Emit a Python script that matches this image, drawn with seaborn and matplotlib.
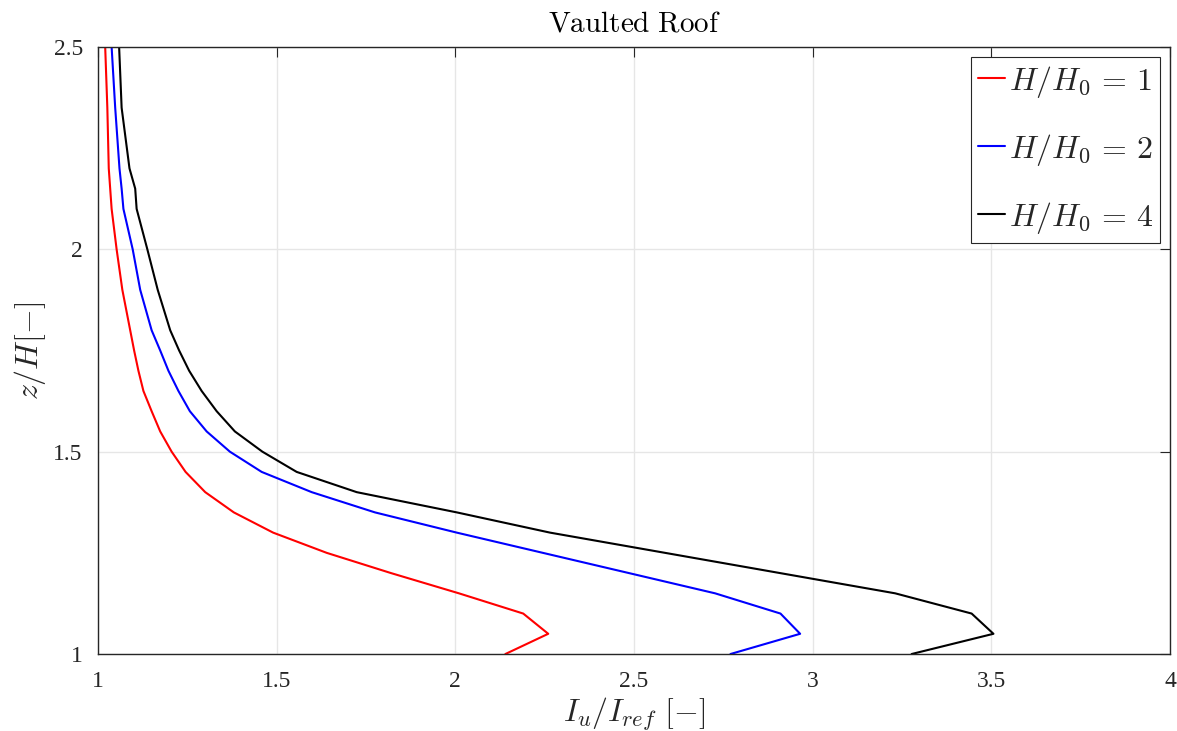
import matplotlib
matplotlib.use("Agg")
import matplotlib.pyplot as plt
import numpy as np
import pandas as pd
import seaborn as sns

# Height above ground (normalised) shared by all profiles
z_over_h = [1.0, 1.05, 1.1, 1.15, 1.2, 1.25, 1.3, 1.35, 1.4, 1.45, 1.5,
            1.55, 1.6, 1.65, 1.7, 1.75, 1.8, 1.9, 2.0, 2.1, 2.15, 2.2,
            2.35, 2.5]

# Turbulence intensity ratio I_u / I_ref for each building-height ratio
iu_h1 = [2.14, 2.26, 2.19, 2.01, 1.82, 1.64, 1.49, 1.38, 1.30, 1.245, 1.206,
         1.174, 1.150, 1.127, 1.113, 1.101, 1.090, 1.068, 1.052, 1.038, 1.034,
         1.030, 1.026, 1.020]
iu_h2 = [2.77, 2.965, 2.91, 2.727, 2.486, 2.245, 2.004, 1.775, 1.598, 1.458,
         1.369, 1.304, 1.257, 1.225, 1.197, 1.174, 1.150, 1.118, 1.097, 1.071,
         1.066, 1.060, 1.048, 1.038]
iu_h4 = [3.277, 3.506, 3.445, 3.231, 2.909, 2.587, 2.265, 2.004, 1.724, 1.556,
         1.460, 1.383, 1.332, 1.290, 1.255, 1.227, 1.202, 1.167, 1.138, 1.108,
         1.104, 1.088, 1.066, 1.059]

case_labels = [r"$H/H_0\,=\,1$", r"$H/H_0\,=\,2$", r"$H/H_0\,=\,4$"]
case_colors = ["#ff0000", "#0000ff", "#000000"]

x_ticks = [1, 1.5, 2, 2.5, 3, 3.5, 4]
x_tick_labels = ["1", "1.5", "2", "2.5", "3", "3.5", "4"]
y_ticks = [1, 1.5, 2, 2.5]
y_tick_labels = ["1", "1.5", "2", "2.5"]

frames = []
for label, values in zip(case_labels, [iu_h1, iu_h2, iu_h4]):
    frames.append(pd.DataFrame({"Iu": values, "z": z_over_h, "case": label}))
df = pd.concat(frames, ignore_index=True)

sns.set_style("white")
plt.rcParams["font.family"] = ["Liberation Serif", "DejaVu Serif"]
plt.rcParams["mathtext.fontset"] = "cm"

fig = plt.figure(figsize=(11.77, 7.31), dpi=100)
ax = fig.add_axes([0.0833, 0.1053, 0.9107, 0.8304])

sns.lineplot(data=df, x="Iu", y="z", hue="case", palette=case_colors,
             sort=False, estimator=None, linewidth=1.5, ax=ax)

ax.set_xlim(1, 4)
ax.set_ylim(1, 2.5)
ax.set_xticks(x_ticks)
ax.set_xticklabels(x_tick_labels)
ax.set_yticks(y_ticks)
ax.set_yticklabels(y_tick_labels)

ax.grid(True, color="#e6e6e6", linewidth=1.0)
ax.set_axisbelow(True)
for side in ["left", "right", "top", "bottom"]:
    ax.spines[side].set_visible(True)
    ax.spines[side].set_color("#262626")
    ax.spines[side].set_linewidth(1.0)

ax.tick_params(axis="both", which="major", direction="in", length=7,
               width=0.8, color="#262626", labelsize=17, labelcolor="#262626",
               top=True, right=True)
ax.tick_params(axis="x", pad=12)
ax.tick_params(axis="y", pad=11)

ax.set_xlabel(r"$I_u/I_{ref}\ [-]$", fontsize=23, color="#262626", labelpad=3)
ax.set_ylabel(r"$z/H[-]$", fontsize=23, color="#262626", labelpad=4)
ax.set_title(r"$\mathrm{Vaulted\ Roof}$", fontsize=21, color="#000000", pad=11)

leg = ax.legend(loc="upper right", fontsize=23, frameon=True, fancybox=False,
                handlelength=0.85, handletextpad=0.12, borderpad=0.22,
                labelspacing=1.0, borderaxespad=0.3)
leg.get_frame().set_edgecolor("#262626")
leg.get_frame().set_linewidth(0.8)
leg.get_frame().set_alpha(1.0)
for line in leg.get_lines():
    line.set_linewidth(1.5)

fig.savefig("out.png", dpi=100)
